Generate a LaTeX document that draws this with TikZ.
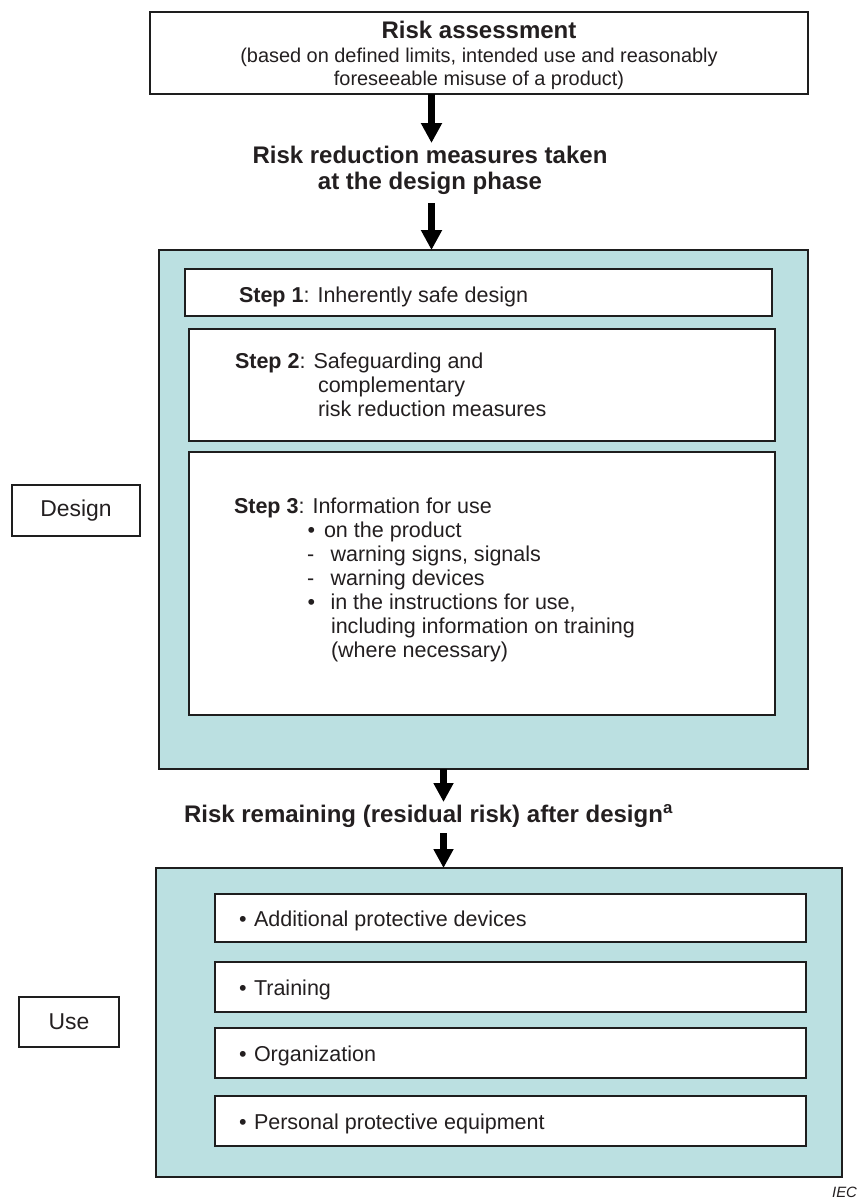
\documentclass[tikz,border=0pt]{standalone}
\usepackage{fontspec}
\setmainfont{Liberation Sans}
\usetikzlibrary{arrows.meta}
\definecolor{tealfill}{RGB}{187,224,225}
\definecolor{linec}{RGB}{30,30,30}
\definecolor{txtc}{RGB}{35,31,32}
\begin{document}
\begin{tikzpicture}[x=1bp,y=-1bp,
  box/.style={draw=linec,line width=1.6bp,fill=white,inner sep=0pt,outer sep=0pt},
  panel/.style={draw=linec,line width=1.6bp,fill=tealfill,inner sep=0pt,outer sep=0pt},
  txt/.style={inner sep=0pt,outer sep=0pt,text=txtc,anchor=base west,font=\fontsize{21.6}{24}\selectfont},
  ctxt/.style={txt,anchor=base},
  head/.style={inner sep=0pt,outer sep=0pt,text=txtc,anchor=base,font=\fontsize{24.1}{26}\selectfont\bfseries},
  small/.style={ctxt,font=\fontsize{20}{22}\selectfont},
  lbl/.style={box,text=txtc,font=\fontsize{23}{25}\selectfont},
  bigarrow/.style={draw=black,line width=7bp,-{Triangle[width=20bp,length=20bp]}},
  midarrow/.style={draw=black,line width=7bp,-{Triangle[width=19bp,length=19bp]}},
]
\useasboundingbox (0,0) rectangle (858,1201);

% top box
\node[box,minimum width=658bp,minimum height=82bp] (top) at (479,53) {};
\node[head] (t1) at (479,38) {Risk assessment};
\node[small] (t2) at (479,62) {(based on defined limits, intended use and reasonably};
\node[small] (t3) at (479,85) {foreseeable misuse of a product)};

% heading 1
\node[head] (h1a) at (430,163) {Risk reduction measures taken};
\node[head] (h1b) at (430,189) {at the design phase};

% design panel
\node[panel,minimum width=649bp,minimum height=519bp] (dpanel) at (483.5,509.5) {};
\node[box,minimum width=587bp,minimum height=47bp] (s1) at (478.5,292.5) {};
\node[box,minimum width=586bp,minimum height=112bp] (s2) at (482,385) {};
\node[box,minimum width=586bp,minimum height=263bp] (s3) at (482,583.5) {};

\node[txt] (s1t) at (239,302) {\textbf{Step 1}: Inherently safe design};
\node[txt] (s2a) at (235,368) {\textbf{Step 2}: Safeguarding and};
\node[txt] (s2b) at (318,392) {complementary};
\node[txt] (s2c) at (318,416) {risk reduction measures};

\node[txt] (s3a) at (234,513) {\textbf{Step 3}: Information for use};
\node[txt] (s3b1) at (307.5,537) {•};
\node[txt] (s3b) at (324,537) {on the product};
\node[txt] (s3c1) at (307,561) {-};
\node[txt] (s3c) at (330.5,561) {warning signs, signals};
\node[txt] (s3d1) at (307,585) {-};
\node[txt] (s3d) at (330.5,585) {warning devices};
\node[txt] (s3e1) at (307.5,609) {•};
\node[txt] (s3e) at (330.5,609) {in the instructions for use,};
\node[txt] (s3f) at (331,633) {including information on training};
\node[txt] (s3g) at (331,657) {(where necessary)};

\node[lbl,minimum width=128bp,minimum height=51bp] (designlbl) at (76,510.5) {Design};

% heading 2
\node[head,anchor=base west] (h2) at (184,822) {Risk remaining (residual risk) after design\textsuperscript{a}};

% use panel
\node[panel,minimum width=686bp,minimum height=309bp] (upanel) at (499,1022.5) {};
\node[box,minimum width=591bp,minimum height=48bp] (u1) at (510.5,918) {};
\node[box,minimum width=591bp,minimum height=50bp] (u2) at (510.5,987) {};
\node[box,minimum width=591bp,minimum height=50bp] (u3) at (510.5,1053) {};
\node[box,minimum width=591bp,minimum height=50bp] (u4) at (510.5,1121) {};

\node[txt] (u1b) at (239,926) {•};
\node[txt] (u1t) at (254,926) {Additional protective devices};
\node[txt] (u2b) at (239,995) {•};
\node[txt] (u2t) at (254,995) {Training};
\node[txt] (u3b) at (239,1061) {•};
\node[txt] (u3t) at (254,1061) {Organization};
\node[txt] (u4b) at (239,1129) {•};
\node[txt] (u4t) at (254,1129) {Personal protective equipment};

\node[lbl,minimum width=100bp,minimum height=50bp] (uselbl) at (69,1022) {Use};

\node[inner sep=0pt,outer sep=0pt,anchor=base east,text=txtc,font=\fontsize{15}{15}\selectfont\itshape] (iec) at (857,1197) {IEC};

% arrows
\coordinate (a1e) at (431.5,143);
\draw[bigarrow] (top.south -| a1e) -- (a1e);
\coordinate (a2s) at (431.5,203);
\draw[bigarrow] (a2s) -- (a2s |- dpanel.north);
\coordinate (a3e) at (443.5,802);
\draw[midarrow] (dpanel.south -| a3e) -- (a3e);
\coordinate (a4s) at (443.5,833);
\draw[midarrow] (a4s) -- (a4s |- upanel.north);
\end{tikzpicture}
\end{document}
